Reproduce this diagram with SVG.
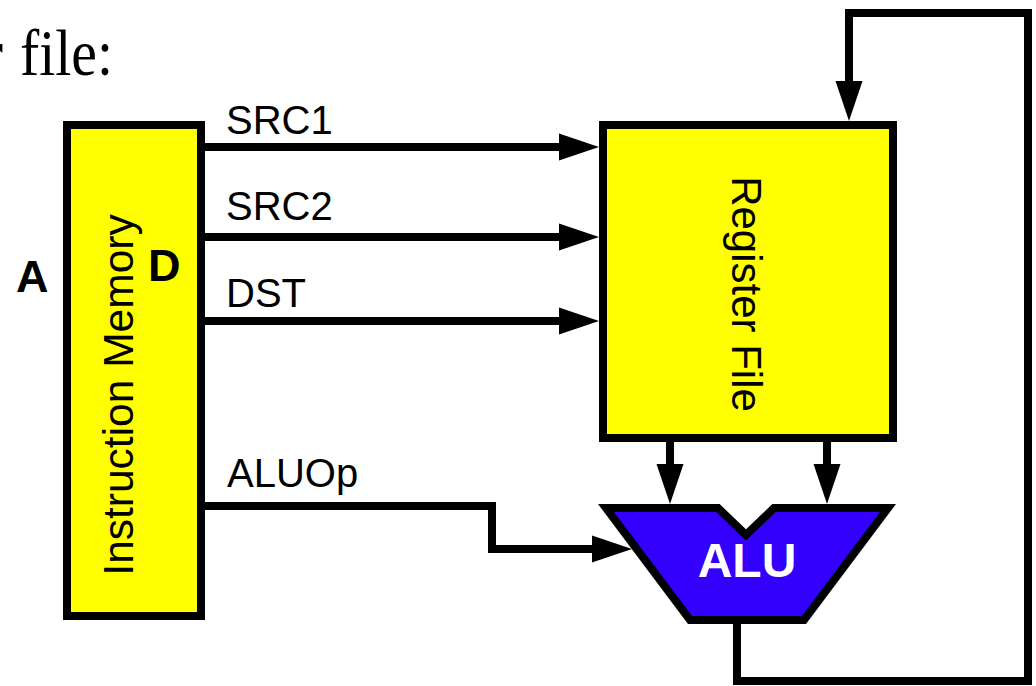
<svg xmlns="http://www.w3.org/2000/svg" width="1036" height="686" viewBox="0 0 1036 686">
<style>
.box{fill:#ffff00;stroke:#000;stroke-width:8}
.alu{fill:#3300ff;stroke:#000;stroke-width:8;stroke-linejoin:miter}
.wire{fill:none;stroke:#000;stroke-width:8;stroke-linejoin:miter;marker-end:url(#arr)}
.lbl{font-family:"Liberation Sans",Arial,sans-serif;font-size:40px;fill:#000}
.big{font-family:"Liberation Sans",Arial,sans-serif;font-size:45px;font-weight:bold;fill:#000}
.title{font-family:"Liberation Serif","Times New Roman",serif;font-size:66px;fill:#000}
</style>
<defs>
<marker id="arr" markerUnits="userSpaceOnUse" markerWidth="40" markerHeight="28" refX="10" refY="13.5" orient="auto" viewBox="0 0 40 27">
<path d="M0,0 L40,13.5 L0,27 Z" fill="#000"/>
</marker>
</defs>
<rect width="1036" height="686" fill="#fff"/>
<g id="title">
<text class="title" x="-19" y="75">r</text>
<text class="title" x="20" y="75" textLength="93" lengthAdjust="spacingAndGlyphs">file:</text>
</g>
<g id="connectors">
<path class="wire" d="M205,147 H569"/>
<path class="wire" d="M205,237 H569"/>
<path class="wire" d="M205,321 H569"/>
<path class="wire" d="M205,506 H492 V549 H602"/>
<path class="wire" d="M670,442 V474"/>
<path class="wire" d="M827,442 V474"/>
<path class="wire" d="M737,620 V681 H1028 V13 H849 V91"/>
<text class="lbl" x="226" y="134">SRC1</text>
<text class="lbl" x="226" y="220">SRC2</text>
<text class="lbl" x="226" y="307">DST</text>
<text class="lbl" x="227" y="487">ALUOp</text>
</g>
<g id="instruction-memory">
<rect class="box" x="67" y="125" width="134" height="491"/>
<text class="lbl" text-anchor="middle" transform="translate(133,395) rotate(-90)" style="font-size:42.5px">Instruction Memory</text>
<text class="big" x="16" y="292">A</text>
<text class="big" x="148" y="281">D</text>
</g>
<g id="register-file">
<rect class="box" x="603" y="125" width="290" height="313"/>
<text class="lbl" text-anchor="middle" transform="translate(732,294) rotate(90)" style="font-size:42px">Register File</text>
</g>
<g id="alu">
<polygon class="alu" points="606,508 718,508 746,535 774,508 888,508 804,620 690,620"/>
<text x="747" y="577" text-anchor="middle" style="font-family:'Liberation Sans',Arial,sans-serif;font-size:48px;font-weight:bold;fill:#fff">ALU</text>
</g>
</svg>
